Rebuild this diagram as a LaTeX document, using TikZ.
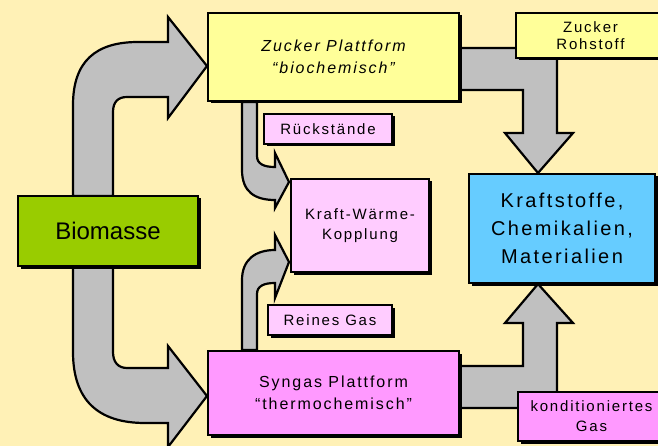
\documentclass[tikz,border=0pt]{standalone}
\usepackage{fontspec}
\setmainfont[LetterSpace=12]{Liberation Sans}
\newfontfamily\plainfont{Liberation Sans}
\usetikzlibrary{shadows}
\definecolor{bgcream}{RGB}{255,241,182}
\definecolor{zuckergelb}{RGB}{255,255,153}
\definecolor{hellrosa}{RGB}{255,204,255}
\definecolor{syngasrosa}{RGB}{255,153,255}
\definecolor{kraftblau}{RGB}{102,204,255}
\definecolor{biogruen}{RGB}{153,204,0}
\definecolor{pfeilgrau}{RGB}{192,192,192}
\tikzset{
  box/.style={draw, line width=2.2pt, inner sep=0pt, outer sep=0pt, align=center,
    font=\fontsize{15}{20}\selectfont,
    general shadow={fill=black, shadow xshift=2.5pt, shadow yshift=-2.5pt}},
  platform/.style={box, font=\fontsize{16}{22}\selectfont},
  pipe/.style={draw, line width=2.2pt, fill=pfeilgrau, line join=miter}
}

\begin{document}
\begin{tikzpicture}[x=1pt, y=-1pt]
    \fill[bgcream] (0,0) rectangle (658,446);
    \useasboundingbox (0,0) rectangle (658,446);
    % Pfeile
    \draw[pipe] (73,196) -- (73,105) .. controls (73,62) and (95,42) .. (138,42) -- (168,42)
        -- (168,17) -- (207,66) -- (168,118) -- (168,97) -- (127,97)
        .. controls (118,97) and (113,102) .. (113,112) -- (113,196) -- cycle;
    \draw[pipe] (73,266) -- (73,352) .. controls (73,400) and (98,423) .. (145,423) -- (168,423)
        -- (168,447) -- (207,396) -- (168,346) -- (168,368) -- (127,368)
        .. controls (118,368) and (113,362) .. (113,352) -- (113,266) -- cycle;
    \draw[pipe] (242,102) -- (242,170) .. controls (242,192) and (255,200) .. (275,200)
        -- (275,208) -- (289,182) -- (275,153) -- (275,167)
        .. controls (264,167) and (257,164) .. (257,156) -- (257,102) -- cycle;
    \draw[pipe] (242,350) -- (242,280) .. controls (242,260) and (255,250) .. (275,250)
        -- (275,235) -- (289,262) -- (275,298) -- (275,283)
        .. controls (264,283) and (257,286) .. (257,294) -- (257,350) -- cycle;
    \draw[pipe] (459,48) -- (557,48) -- (557,133) -- (573,133) -- (538,173) -- (505,133)
        -- (523,133) -- (523,90) -- (459,90) -- cycle;
    \draw[pipe] (459,366) -- (523,366) -- (523,323) -- (505,323) -- (538,284) -- (573,323)
        -- (557,323) -- (557,408) -- (459,408) -- cycle;
    % Kaesten
    \node[platform, fill=zuckergelb, minimum width=251pt, minimum height=88pt] (zucker) at (333.5,57)
        {\itshape Zucker Plattform\\\itshape “biochemisch”};
    \node[box, fill=zuckergelb, minimum width=149pt, minimum height=45pt, font=\fontsize{15}{17}\selectfont] (rohstoff) at (590.5,35.5)
        {Zucker\\Rohstoff};
    \node[box, fill=hellrosa, minimum width=128pt, minimum height=30pt] (rueck) at (328,129) {Rückstände};
    \node[box, fill=hellrosa, minimum width=138pt, minimum height=93pt] (kwk) at (360,225.5)
        {Kraft-Wärme-\\Kopplung};
    \node[box, fill=kraftblau, minimum width=186pt, minimum height=109pt, font=\fontsize{20}{28}\selectfont] (kraft) at (562,228.5)
        {Kraftstoffe,\\Chemikalien,\\Materialien};
    \node[box, fill=biogruen, minimum width=180pt, minimum height=70pt, font=\plainfont\fontsize{24}{28}\selectfont] (bio) at (108,231)
        {Biomasse};
    \node[box, fill=hellrosa, minimum width=124pt, minimum height=30pt] (reines) at (330,320) {Reines Gas};
    \node[platform, fill=syngasrosa, minimum width=251pt, minimum height=84pt] (syngas) at (333.5,393)
        {Syngas Plattform\\“thermochemisch”};
    \node[box, fill=syngasrosa, minimum width=147pt, minimum height=49pt] (kond) at (591.5,416.5)
        {konditioniertes\\Gas};
\end{tikzpicture}
\end{document}
